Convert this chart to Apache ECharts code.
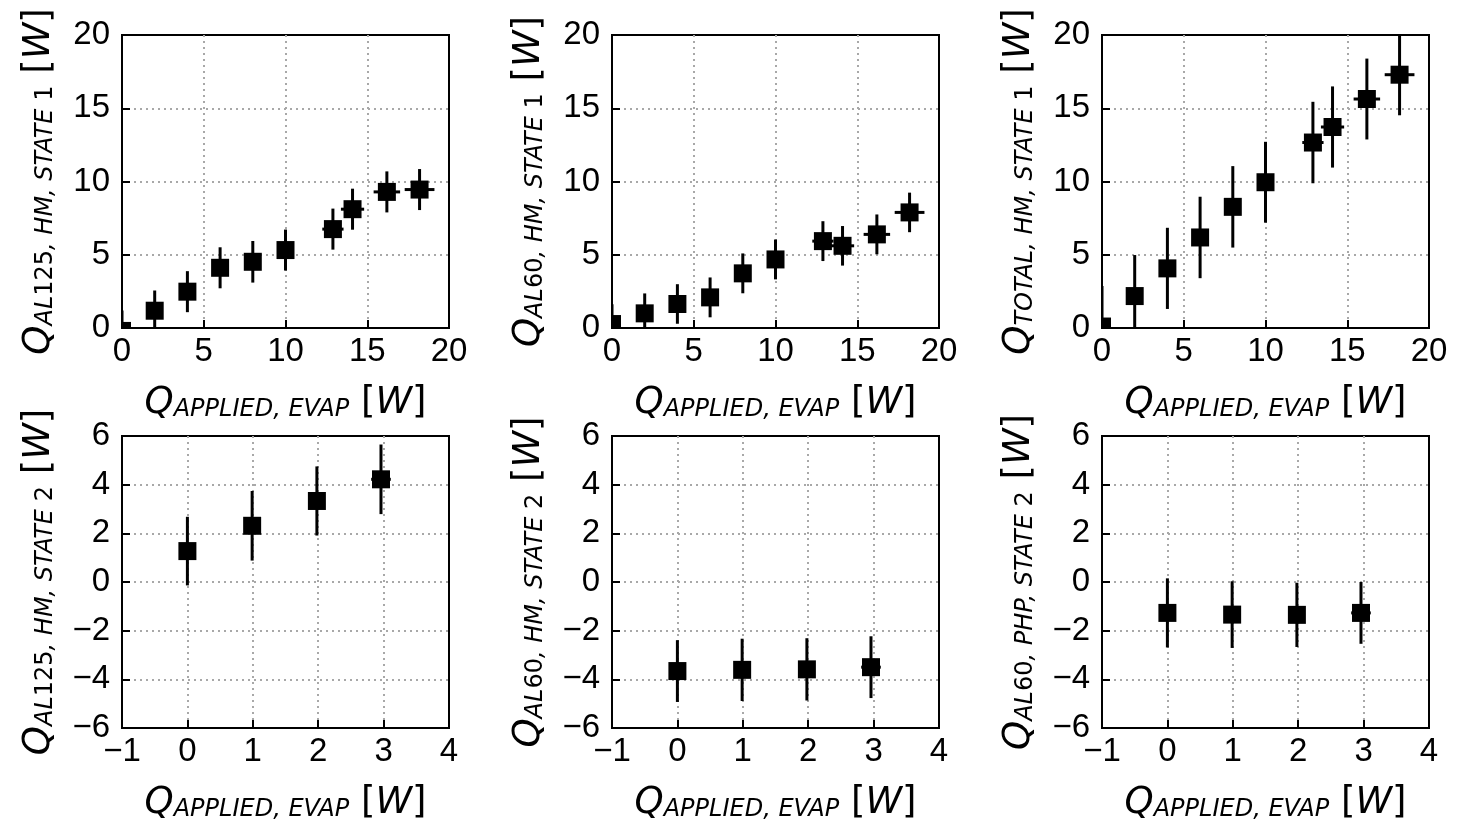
<!DOCTYPE html>
<html><head><meta charset="utf-8">
<script src="https://cdn.jsdelivr.net/npm/echarts@6/dist/echarts.min.js"></script>
<style>html,body{margin:0;padding:0;background:#fff}#c{width:1465px;height:828px}</style>
</head><body><div id="c"></div>
<script>
// ---- data ----
const xApplied1 = [0, 2, 4, 6, 8, 10, 12.9, 14.1, 16.2, 18.2];
const xErr1 = [0, 0.1, 0.2, 0.3, 0.4, 0.5, 0.65, 0.71, 0.81, 0.91];
const qAl125State1 = [-0.2, 1.18, 2.48, 4.11, 4.52, 5.32, 6.75, 8.11, 9.29, 9.45];
const errAl125State1 = [1.4, 1.38, 1.4, 1.4, 1.42, 1.4, 1.4, 1.4, 1.4, 1.4];
const qAl60State1 = [0.27, 1.0, 1.64, 2.09, 3.73, 4.68, 5.93, 5.61, 6.39, 7.89];
const errAl60State1 = [1.35, 1.36, 1.35, 1.36, 1.36, 1.36, 1.36, 1.35, 1.36, 1.35];
const qTotalState1 = [0.1, 2.18, 4.07, 6.18, 8.27, 9.95, 12.66, 13.72, 15.63, 17.29];
const errTotalState1 = [2.77, 2.8, 2.77, 2.78, 2.78, 2.76, 2.78, 2.77, 2.76, 2.77];

const xApplied2 = [0, 0.99, 1.98, 2.96];
const xErr2 = [0, 0.05, 0.1, 0.15];
const qAl125State2 = [1.27, 2.31, 3.33, 4.22];
const errAl125State2 = [1.41, 1.43, 1.42, 1.43];
const qAl60HmState2 = [-3.66, -3.61, -3.59, -3.5];
const errAl60HmState2 = [1.27, 1.28, 1.28, 1.27];
const qAl60PhpState2 = [-1.27, -1.34, -1.35, -1.27];
const errAl60PhpState2 = [1.42, 1.37, 1.32, 1.27];

const xTicksTop = [0, 5, 10, 15, 20];
const yTicksTop = [0, 5, 10, 15, 20];
const xTicksBottom = [-1, 0, 1, 2, 3, 4];
const yTicksBottom = [-6, -4, -2, 0, 2, 4, 6];

const yTitles = [
  ['AL', '125', ', HM, STATE ', '1'],
  ['AL', '60', ', HM, STATE ', '1'],
  ['TOTAL', '', ', HM, STATE ', '1'],
  ['AL', '125', ', HM, STATE ', '2'],
  ['AL', '60', ', HM, STATE ', '2'],
  ['AL', '60', ', PHP, STATE ', '2']
];
const xTitleSub = 'APPLIED, EVAP';

// ---- layout ----
const lefts = [122, 612, 1102];
const W = 327;
const rows = [{top: 35, height: 293}, {top: 436, height: 292}];

const panels = [
  {x: xApplied1, xe: xErr1, y: qAl125State1, ye: errAl125State1, row: 0, col: 0},
  {x: xApplied1, xe: xErr1, y: qAl60State1, ye: errAl60State1, row: 0, col: 1},
  {x: xApplied1, xe: xErr1, y: qTotalState1, ye: errTotalState1, row: 0, col: 2},
  {x: xApplied2, xe: xErr2, y: qAl125State2, ye: errAl125State2, row: 1, col: 0},
  {x: xApplied2, xe: xErr2, y: qAl60HmState2, ye: errAl60HmState2, row: 1, col: 1},
  {x: xApplied2, xe: xErr2, y: qAl60PhpState2, ye: errAl60PhpState2, row: 1, col: 2}
];

function renderItem(params, api) {
  const x = api.value(0), y = api.value(1), xe = api.value(2), ye = api.value(3);
  const c = api.coord([x, y]);
  const t = api.coord([x, y + ye]), b = api.coord([x, y - ye]);
  const l = api.coord([x - xe, y]), r = api.coord([x + xe, y]);
  const s = 18;
  return {type: 'group', children: [
    {type: 'line', shape: {x1: c[0], y1: t[1], x2: c[0], y2: b[1]}, style: {stroke: '#000', lineWidth: 3}},
    {type: 'line', shape: {x1: l[0], y1: c[1], x2: r[0], y2: c[1]}, style: {stroke: '#000', lineWidth: 3}},
    {type: 'rect', shape: {x: c[0] - s / 2, y: c[1] - s / 2, width: s, height: s}, style: {fill: '#000'}}
  ]};
}

const fmt = v => String(v).replace('-', '\u2212');
const splitStyle = {show: true, showMinLine: false, showMaxLine: false,
  lineStyle: {color: '#a8a8a8', width: 2, type: [2, 4]}};
function axisCommon(ticks) {
  return {
    type: 'value', min: ticks[0], max: ticks[ticks.length - 1], interval: ticks[1] - ticks[0],
    axisLine: {show: true, onZero: false, lineStyle: {color: '#000', width: 2}},
    axisTick: {show: true, inside: true, length: 8, lineStyle: {color: '#000', width: 2}},
    axisLabel: {color: '#000', fontSize: 33, fontFamily: 'Liberation Sans', formatter: fmt},
    splitLine: splitStyle
  };
}

const grid = [], xAxis = [], yAxis = [], series = [];
panels.forEach((p, i) => {
  grid.push({left: lefts[p.col], width: W, top: rows[p.row].top, height: rows[p.row].height,
    show: true, borderColor: '#000', borderWidth: 2, backgroundColor: 'transparent'});
  const xa = axisCommon(p.row === 0 ? xTicksTop : xTicksBottom);
  xa.gridIndex = i; xa.axisLabel.margin = 7;
  const ya = axisCommon(p.row === 0 ? yTicksTop : yTicksBottom);
  ya.gridIndex = i; ya.axisLabel.margin = 12;
  xAxis.push(xa); yAxis.push(ya);
  series.push({
    type: 'custom', xAxisIndex: i, yAxisIndex: i, clip: true,
    renderItem: renderItem,
    data: p.x.map((xv, k) => [xv, p.y[k], p.xe[k], p.ye[k]]),
    z: 3
  });
});

const rich = {
  q: {fontFamily: 'DejaVu Sans', fontStyle: 'italic', fontSize: 37, lineHeight: 44, verticalAlign: 'bottom', color: '#000'},
  s: {fontFamily: 'DejaVu Sans', fontStyle: 'italic', fontSize: 24, lineHeight: 29, verticalAlign: 'bottom', color: '#000'},
  sn: {fontFamily: 'DejaVu Sans', fontSize: 24, lineHeight: 29, verticalAlign: 'bottom', color: '#000'},
  b: {fontFamily: 'DejaVu Sans', fontSize: 37, lineHeight: 44, verticalAlign: 'bottom', color: '#000'},
  w: {fontFamily: 'DejaVu Sans', fontStyle: 'italic', fontSize: 37, lineHeight: 44, verticalAlign: 'bottom', color: '#000'}
};
function yTitleText(parts) {
  let s = '{q|Q}{s|' + parts[0] + '}';
  if (parts[1]) s += '{sn|' + parts[1] + '}';
  s += '{s|' + parts[2] + '}{sn|' + parts[3] + '}{b| [}{w|W}{b|]}';
  return s;
}
const xTitleText = '{q|Q}{s|' + xTitleSub + '}{b| [}{w|W}{b|]}';

const graphic = [];
panels.forEach((p, i) => {
  const cx = lefts[p.col] + W / 2;
  const cy = rows[p.row].top + rows[p.row].height / 2;
  graphic.push({type: 'text', x: lefts[p.col] - 86, y: cy, rotation: Math.PI / 2,
    style: {text: yTitleText(yTitles[i]), rich: rich, align: 'center', verticalAlign: 'middle'}});
  graphic.push({type: 'text', x: cx, y: rows[p.row].top + rows[p.row].height + 72,
    style: {text: xTitleText, rich: rich, align: 'center', verticalAlign: 'middle'}});
});

const chart = echarts.init(document.getElementById('c'), null, {renderer: 'canvas'});
chart.setOption({animation: false, backgroundColor: '#fff', grid, xAxis, yAxis, series, graphic});
</script></body></html>
